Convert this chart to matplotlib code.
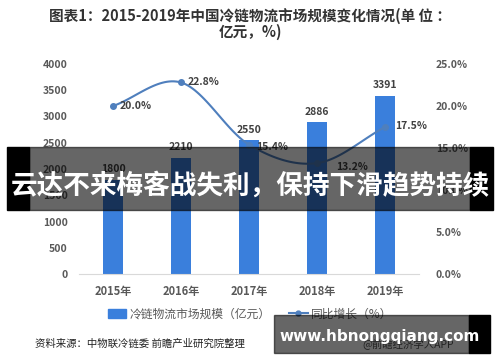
import numpy as np
import matplotlib
matplotlib.use("Agg")
import matplotlib.pyplot as plt
from matplotlib.patches import Rectangle
from matplotlib.lines import Line2D

plt.rcParams['font.family'] = ['Noto Sans CJK SC', 'DejaVu Sans']

years = ["2015年", "2016年", "2017年", "2018年", "2019年"]
market_size = [1800, 2210, 2550, 2886, 3391]
growth = [20.0, 22.8, 15.4, 13.2, 17.5]
left_ticks = [0, 500, 1000, 1500, 2000, 2500, 3000, 3500, 4000]
right_ticks = [0, 5, 10, 15, 20, 25]

title = "图表1：2015-2019年中国冷链物流市场规模变化情况(单 位 ：\n亿元，%)"
legend_bar = "冷链物流市场规模（亿元）"
legend_line = "同比增长（%）"
source = "资料来源：中物联冷链委 前瞻产业研究院整理"
credit = "@前瞻经济学人APP"
banner = "云达不来梅客战失利，保持下滑趋势持续"
watermark = "www.hbnongqiang.com"

BAR = "#3a7fdc"
LINE = "#4f7fbd"
TXT = "#595959"

W, H = 500, 362
fig = plt.figure(figsize=(5, 3.62), dpi=100)
fig.patch.set_facecolor("white")

ax = fig.add_axes([79 / W, 1 - 274 / H, 340 / W, 210 / H])
x = np.arange(len(years))
ax.bar(x, market_size, width=0.3, color=BAR, zorder=2)
ax.set_xlim(-0.5, 4.5)
ax.set_ylim(0, 4000)
ax.set_yticks(left_ticks)
ax.set_yticklabels([str(t) for t in left_ticks], fontsize=7.5, color=TXT, fontweight="bold")
ax.set_xticks(x)
ax.set_xticklabels(years, fontsize=8, color=TXT, fontweight="bold")
ax.tick_params(axis="both", length=0, pad=8)
for s in ["top", "right", "left"]:
    ax.spines[s].set_visible(False)
ax.spines["bottom"].set_color("#d9d9d9")
for xi, v in zip(x, market_size):
    ax.annotate(str(v), (xi, v), xytext=(0, 4), textcoords="offset points",
                ha="center", va="bottom", fontsize=7.5, fontweight="bold", color="#404040")

ax2 = ax.twinx()
ax2.set_ylim(0, 25)
ax2.set_yticks(right_ticks)
ax2.set_yticklabels([f"{t:.1f}%" for t in right_ticks], fontsize=7.5, color=TXT, fontweight="bold")
ax2.tick_params(axis="y", length=0, pad=12)
for s in ["top", "right", "left", "bottom"]:
    ax2.spines[s].set_visible(False)

# smooth curve (Catmull-Rom) through the data points
px = x.astype(float)
py = np.array(growth, dtype=float)
P = np.column_stack([px, py])
P = np.vstack([2 * P[0] - P[1], P, 2 * P[-1] - P[-2]])
cx, cy = [], []
for i in range(1, len(P) - 2):
    p0, p1, p2, p3 = P[i - 1], P[i], P[i + 1], P[i + 2]
    t = np.linspace(0, 1, 30)[:, None]
    c = 0.5 * ((2 * p1) + (-p0 + p2) * t + (2 * p0 - 5 * p1 + 4 * p2 - p3) * t ** 2
               + (-p0 + 3 * p1 - 3 * p2 + p3) * t ** 3)
    cx.extend(c[:, 0]); cy.extend(c[:, 1])
ax2.plot(cx, cy, color=LINE, lw=1.5, zorder=3)
ax2.plot(px, py, "o", color=LINE, ms=4, zorder=4)
offs = [(5, 0), (5, 0), (5, -2), (14, -3), (7, 1)]
for xi, v, o in zip(px, py, offs):
    ax2.annotate(f"{v:.1f}%", (xi, v), xytext=o, textcoords="offset points",
                 ha="left", va="center", fontsize=7.5, fontweight="bold", color="#404040")

fig.text(0.5, 1 - 24 / H, title, ha="center", va="center", fontsize=10.5,
         fontweight="bold", color="#333333", linespacing=1.0)

# legend
leg_handles = [Rectangle((0, 0), 1, 1, color=BAR),
               Line2D([0], [0], color=LINE, lw=1.5, marker="o", ms=3.5)]
fig.legend(leg_handles, [legend_bar, legend_line], loc="center",
           bbox_to_anchor=(250 / W, 1 - 314 / H), ncol=2, frameon=False,
           fontsize=8.5, labelcolor=TXT, handlelength=1.6, handletextpad=0.3,
           columnspacing=1.5)

fig.text(35 / W, 1 - 344 / H, source, ha="left", va="center", fontsize=7.5, color="#222222")
fig.text(362 / W, 1 - 344 / H, credit, ha="left", va="center", fontsize=7.5, color="#555555")

# banner overlay
def frac_rect(x0, y0, x1, y1, **kw):
    fig.patches.append(Rectangle((x0 / W, 1 - y1 / H), (x1 - x0) / W, (y1 - y0) / H,
                                 transform=fig.transFigure, figure=fig, **kw))

frac_rect(7, 147, 29, 210, color="black", zorder=10)
frac_rect(470, 147, 493, 210, color="black", zorder=10)
frac_rect(29, 147, 470, 210, color="black", alpha=0.6, zorder=10)
fig.text(250 / W, 1 - 186 / H, banner, ha="center", va="center", fontsize=19.2,
         fontweight="bold", color="white", zorder=11)

frac_rect(274, 315, 469, 353, color="black", alpha=0.6, zorder=10)
frac_rect(469, 315, 490, 353, color="black", zorder=10)
fig.text(380 / W, 1 - 336 / H, watermark, ha="center", va="center", fontsize=11,
         fontweight="bold", color="white", family="DejaVu Sans", zorder=11)

fig.savefig("out.png", dpi=100)
